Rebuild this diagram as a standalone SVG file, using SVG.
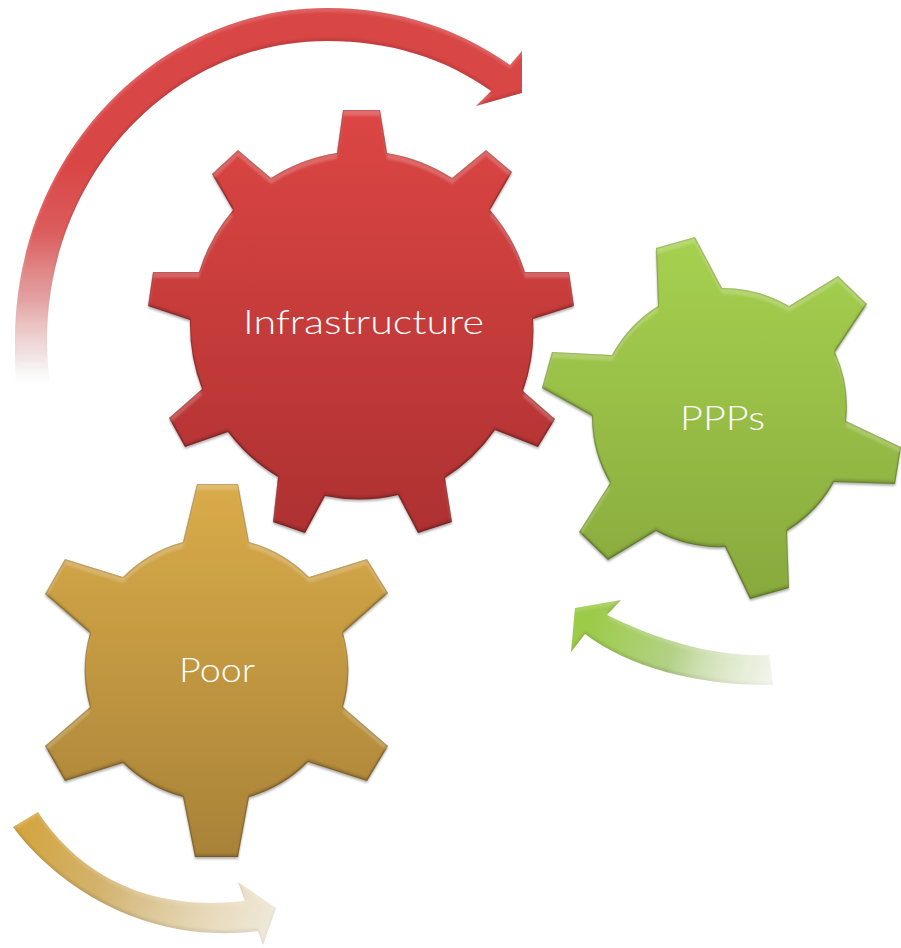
<svg xmlns="http://www.w3.org/2000/svg" width="901" height="948" viewBox="0 0 901 948">
<style>
.lbl{font-family:"Lato","Open Sans","Liberation Sans",sans-serif;font-weight:300;font-size:33px;fill:#fff;text-anchor:middle}
.bevel{filter:url(#bevel)}
.soft{filter:url(#softBevel)}
</style>
<defs>
<filter id="bevel" x="-5%" y="-5%" width="110%" height="110%" color-interpolation-filters="sRGB">
<feGaussianBlur in="SourceAlpha" stdDeviation="1.3" result="b"/>
<feOffset in="b" dy="6" result="o1"/>
<feComposite in="SourceAlpha" in2="o1" operator="out" result="hiMask"/>
<feFlood flood-color="#fff" flood-opacity=".2"/>
<feComposite in2="hiMask" operator="in" result="hi"/>
<feOffset in="b" dy="-3" result="o2"/>
<feComposite in="SourceAlpha" in2="o2" operator="out" result="loMask"/>
<feFlood flood-color="#000" flood-opacity=".16"/>
<feComposite in2="loMask" operator="in" result="lo"/>
<feMorphology in="SourceAlpha" operator="erode" radius="1" result="er"/>
<feGaussianBlur in="er" stdDeviation=".6" result="erb"/>
<feComposite in="SourceAlpha" in2="erb" operator="out" result="edgeMask"/>
<feFlood flood-color="#000" flood-opacity=".16"/>
<feComposite in2="edgeMask" operator="in" result="edge"/>
<feGaussianBlur in="SourceAlpha" stdDeviation="1" result="sb"/>
<feOffset in="sb" dy="1.500" result="so"/>
<feFlood flood-color="#000" flood-opacity=".3"/>
<feComposite in2="so" operator="in" result="shadow"/>
<feMerge><feMergeNode in="shadow"/><feMergeNode in="SourceGraphic"/><feMergeNode in="edge"/><feMergeNode in="lo"/><feMergeNode in="hi"/></feMerge>
</filter>
<filter id="softBevel" x="-5%" y="-5%" width="110%" height="110%" color-interpolation-filters="sRGB">
<feGaussianBlur in="SourceAlpha" stdDeviation="1.2" result="b"/>
<feOffset in="b" dy="4" result="o1"/>
<feComposite in="SourceAlpha" in2="o1" operator="out" result="hiMask"/>
<feFlood flood-color="#fff" flood-opacity=".14"/>
<feComposite in2="hiMask" operator="in" result="hi"/>
<feOffset in="b" dy="-3" result="o2"/>
<feComposite in="SourceAlpha" in2="o2" operator="out" result="loMask"/>
<feFlood flood-color="#000" flood-opacity=".1"/>
<feComposite in2="loMask" operator="in" result="lo"/>
<feMerge><feMergeNode in="SourceGraphic"/><feMergeNode in="lo"/><feMergeNode in="hi"/></feMerge>
</filter>
<linearGradient id="gRed" x1="0" y1="0" x2="0" y2="1"><stop offset="0" stop-color="#dc4644"/><stop offset="1" stop-color="#ae3131"/></linearGradient>
<linearGradient id="gGreen" x1="0" y1="0" x2="0" y2="1"><stop offset="0" stop-color="#a6d14f"/><stop offset="1" stop-color="#88a93d"/></linearGradient>
<linearGradient id="gGold" x1="0" y1="0" x2="0" y2="1"><stop offset="0" stop-color="#d9ab49"/><stop offset="1" stop-color="#a88238"/></linearGradient>
<linearGradient id="aRed" gradientUnits="userSpaceOnUse" x1="0" y1="165" x2="0" y2="385"><stop offset="0" stop-color="#d94646"/><stop offset=".3" stop-color="#dc5c5c"/><stop offset=".62" stop-color="#e39a9a" stop-opacity=".9"/><stop offset=".85" stop-color="#f3d6d6" stop-opacity=".7"/><stop offset="1" stop-color="#fff" stop-opacity="0"/></linearGradient>
<linearGradient id="aGreen" gradientUnits="userSpaceOnUse" x1="590" y1="620" x2="775" y2="680"><stop offset="0" stop-color="#9ccb48"/><stop offset=".45" stop-color="#b3d186"/><stop offset="1" stop-color="#eef5de" stop-opacity=".4"/></linearGradient>
<linearGradient id="aGold" gradientUnits="userSpaceOnUse" x1="25" y1="820" x2="270" y2="925"><stop offset="0" stop-color="#d4a540"/><stop offset=".35" stop-color="#d2b26c"/><stop offset="1" stop-color="#efe6d0" stop-opacity=".75"/></linearGradient>
</defs>
<g id="connectors">
<path class="soft" fill="url(#aRed)" d="M16,385 C15,370 15,355 15,340 C15,157 155,8 327,8 C400,8 460,30 510,65 L522,51 L522,93 L476,106 L491,91 C445,58 390,41 327,41 C172,41 47,175 47,340 C47,355 48,370 50,385 Z"/>
<path class="soft" fill="url(#aGreen)" d="M769,655 C715,657 660,641 607,615 L621,600 L575,608 L571,652 L585,634 C630,668 700,686 773,685 Z"/>
<path class="soft" fill="url(#aGold)" d="M13,827 L38,812 C75,868 140,913 245,901 L238,882 L276,908 L263,945 L258,931 C150,945 60,890 13,827 Z"/>
</g>
<g id="node-poor">
<path class="bevel" fill="url(#gGold)" d="M197,484 L238,484 L249,542 A134,134 0 0 1 309,577 L367,559 L388,593 L343,633 A134,134 0 0 1 343,707 L388,746 L367,781 L308,762 A134,134 0 0 1 249,797 L238,857 L195,857 L183,797 A134,134 0 0 1 123,763 L65,781 L45,746 L90,707 A134,134 0 0 1 90,633 L45,594 L65,559 L123,577 A134,134 0 0 1 183,542 Z"/>
<text class="lbl" x="217" y="682" textLength="76" lengthAdjust="spacingAndGlyphs">Poor</text>
</g>
<g id="node-infrastructure">
<path class="bevel" fill="url(#gRed)" d="M343,110 L380,110 L387,153 A172,175 0 0 1 452,178 L486,150 L512,172 L490,210 A172,175 0 0 1 525,272 L569,272 L574,306 L533,319 A172,175 0 0 1 523,391 L555,419 L538,447 L495,430 A172,175 0 0 1 445,478 L452,522 L418,533 L398,495 A172,175 0 0 1 325,496 L305,533 L273,522 L278,477 A172,175 0 0 1 228,432 L185,447 L169,418 L202,389 A172,175 0 0 1 190,320 L148,306 L153,272 L199,272 A172,175 0 0 1 233,210 L212,174 L238,150 L271,178 A172,175 0 0 1 337,153 Z"/>
<text class="lbl" x="363.500" y="334" textLength="241" lengthAdjust="spacingAndGlyphs">Infrastructure</text>
</g>
<g id="node-ppps">
<path class="bevel" fill="url(#gGreen)" d="M656,248 L695,237 L722,288 A132,132 0 0 1 789,306 L838,276 L867,304 L835,352 A132,132 0 0 1 846,421 L901,447 L895,484 L834,482 A132,132 0 0 1 787,531 L789,588 L750,599 L725,547 A132,132 0 0 1 656,531 L608,560 L579,532 L610,483 A132,132 0 0 1 592,416 L542,388 L552,352 L612,355 A132,132 0 0 1 658,306 Z"/>
<text class="lbl" x="722.500" y="430" textLength="85" lengthAdjust="spacingAndGlyphs">PPPs</text>
</g>
</svg>
